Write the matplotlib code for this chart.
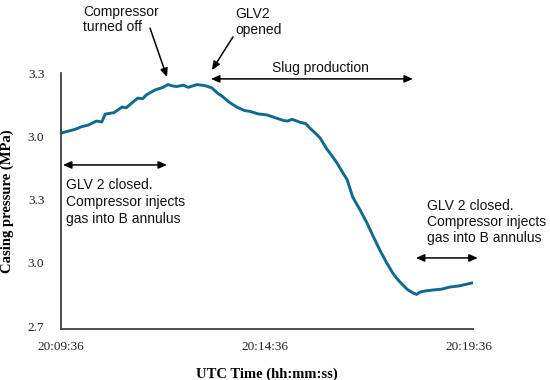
import numpy as np
import matplotlib
matplotlib.use('Agg')
import matplotlib.pyplot as plt

# seconds since 20:09:36 and casing pressure
t_sec = [0, 8, 20, 30, 40, 52, 60, 65, 78, 90, 96, 102, 113, 120, 126, 138, 150, 157, 165,
         170, 180, 187, 200, 212, 222, 230, 237, 248, 260, 270, 278, 290, 303, 315, 327,
         333, 340, 352, 360, 366, 374, 381, 391, 399, 406, 414, 421, 429, 440, 450, 460,
         469, 479, 488, 496, 503, 510, 518, 523, 528, 535, 547, 560, 572, 585, 596, 604]
pressure = [3.615, 3.622, 3.632, 3.645, 3.653, 3.672, 3.668, 3.705, 3.712, 3.739, 3.735, 3.752,
            3.781, 3.778, 3.797, 3.819, 3.832, 3.845, 3.838, 3.836, 3.842, 3.832, 3.845, 3.840,
            3.829, 3.805, 3.790, 3.760, 3.736, 3.722, 3.718, 3.706, 3.701, 3.688, 3.675, 3.672,
            3.680, 3.666, 3.660, 3.639, 3.615, 3.592, 3.540, 3.505, 3.473, 3.430, 3.393, 3.312,
            3.250, 3.189, 3.120, 3.060, 3.000, 2.951, 2.918, 2.894, 2.872, 2.857, 2.850, 2.861,
            2.866, 2.871, 2.875, 2.885, 2.890, 2.898, 2.904]

x_ticks = [0, 300, 600]
x_labels = ['20:09:36', '20:14:36', '20:19:36']
y_ticks = [2.7, 3.0, 3.3, 3.6, 3.9]
y_labels = ['2.7', '3.0', '3.3', '3.0', '3.3']

line_color = '#0f6a8d'
serif = ['Liberation Serif', 'DejaVu Serif']
sans = ['Liberation Sans', 'DejaVu Sans']

fig = plt.figure(figsize=(5.5, 3.8), dpi=100)
ax = fig.add_axes([61/550, 1-329/380, 412/550, 256/380])

ax.plot(t_sec, pressure, color=line_color, lw=2.1, solid_joinstyle='round')

ax.set_xlim(0, 606)
ax.set_ylim(2.686, 3.9)
ax.set_xticks(x_ticks)
ax.set_xticklabels(x_labels, family=serif, fontsize=9.5)
ax.set_yticks(y_ticks)
ax.set_yticklabels(y_labels, family=serif, fontsize=9.5)
ax.tick_params(length=0, pad=12, colors='#222222')
ax.tick_params(axis='x', pad=9)

for s in ['top', 'right']:
    ax.spines[s].set_visible(False)
for s in ['left', 'bottom']:
    ax.spines[s].set_color('#404040')
    ax.spines[s].set_linewidth(1.3)

ax.set_xlabel('UTC Time (hh:mm:ss)', family=serif, fontsize=10.5, fontweight='bold', labelpad=10)
ax.set_ylabel('Casing pressure (MPa)', family=serif, fontsize=10.5, fontweight='bold', labelpad=10)

one = dict(arrowstyle='-|>,head_length=0.5,head_width=0.22', color='black', lw=1.1,
           shrinkA=0, shrinkB=0)
both = dict(arrowstyle='<|-|>,head_length=0.5,head_width=0.22', color='black', lw=1.1,
            shrinkA=0, shrinkB=0)
kw = dict(annotation_clip=False)

# events
ax.annotate('', xy=(155.9, 3.881), xytext=(130.9, 4.113), arrowprops=one, **kw)
ax.annotate('', xy=(222, 3.914), xytext=(252.9, 4.071), arrowprops=one, **kw)
ax.annotate('', xy=(220.6, 3.872), xytext=(517.6, 3.872), arrowprops=both, **kw)
ax.annotate('', xy=(2.9, 3.464), xytext=(155.9, 3.464), arrowprops=both, **kw)
ax.annotate('', xy=(522, 3.023), xytext=(613, 3.023), arrowprops=both, **kw)

tk = dict(family=sans, fontsize=10, color='#111111', clip_on=False)
ax.text(32.4, 4.154, 'Compressor\nturned off', ha='left', va='center', linespacing=1.15, **tk)
ax.text(255.9, 4.142, 'GLV2\nopened', ha='left', va='center', linespacing=1.15, **tk)
ax.text(380.9, 3.924, 'Slug production', ha='center', va='center', **tk)
ax.text(7.4, 3.288, 'GLV 2 closed.\nCompressor injects\ngas into B annulus',
        ha='left', va='center', linespacing=1.3, **tk)
ax.text(538.2, 3.193, 'GLV 2 closed.\nCompressor injects\ngas into B annulus',
        ha='left', va='center', linespacing=1.15, **tk)

plt.savefig('out.png', dpi=100)
